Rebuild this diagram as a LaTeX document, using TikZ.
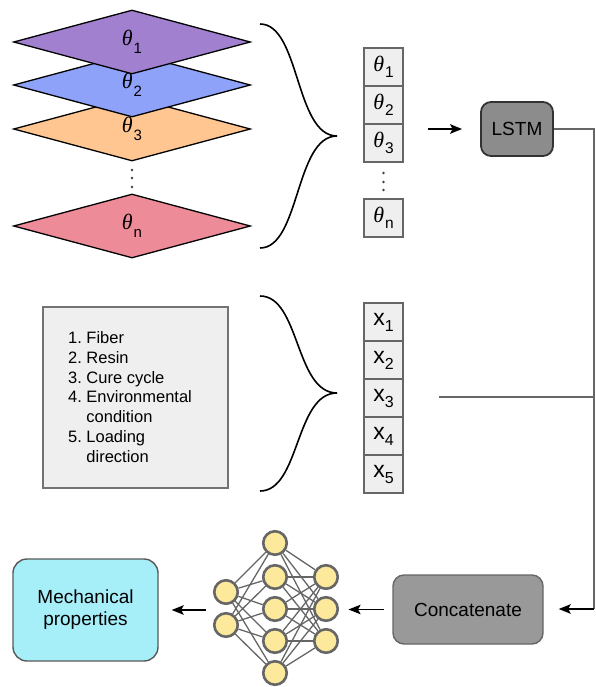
\documentclass[tikz,border=0pt]{standalone}
\usepackage{fontspec}
\setmainfont{Liberation Sans}
\newfontfamily\thetafont{Liberation Serif}
\usetikzlibrary{shapes.geometric,arrows.meta,fit,backgrounds}
\definecolor{cpurple}{HTML}{A180D0}
\definecolor{cblue}{HTML}{8FA2FA}
\definecolor{corange}{HTML}{FFC692}
\definecolor{cpink}{HTML}{EE8B98}
\definecolor{ccell}{HTML}{EFEFEF}
\definecolor{cedge}{HTML}{666666}
\definecolor{clstm}{HTML}{8C8C8C}
\definecolor{cconcat}{HTML}{999999}
\definecolor{cmech}{HTML}{A6EEF8}
\definecolor{cneuron}{HTML}{FCE99C}
\newcommand{\thsym}[1]{{\fontsize{22}{22}\selectfont\thetafont\itshape θ}\hspace{1pt}\raisebox{-6pt}{\fontsize{15.5}{15.5}\selectfont #1}}
\newcommand{\thdia}[1]{\raisebox{-3pt}{{\fontsize{22}{22}\selectfont\thetafont\itshape θ}\hspace{1pt}\raisebox{-8pt}{\fontsize{15}{15}\selectfont #1}}}
\newcommand{\xsym}[1]{{\fontsize{23}{23}\selectfont x}\raisebox{-6pt}{\fontsize{16}{16}\selectfont #1}}
\begin{document}
\begin{tikzpicture}[x=1pt,y=-1pt,
  layer/.style={diamond, draw=black, line width=1.3pt, minimum width=237pt, minimum height=64pt, inner sep=0pt, aspect=3.7},
  cell/.style={draw=cedge, fill=ccell, line width=1.3pt, minimum width=39pt, minimum height=38pt, inner sep=0pt},
  brace/.style={line width=1.6pt, black},
  arr/.style={-{Stealth[length=12pt,width=9.5pt,inset=2.5pt]}, line width=1.6pt, black},
  wire/.style={line width=1.2pt, draw=cedge},
  neuron/.style={circle, draw=cedge, fill=cneuron, line width=2.6pt, minimum size=23.5pt, inner sep=0pt},
  nnedge/.style={line width=1.3pt, draw=cedge},
  boxfont/.style={font=\fontsize{19}{22}\selectfont},
  dotfill/.style={fill=black!75}
]
\useasboundingbox (0,0) rectangle (595,687);

% diamonds (layers)
\node[layer, fill=cpink] (Ln) at (132,226) {\thdia{n}};
\node[layer, fill=corange] (L3) at (132,129) {\thdia{3}};
\node[layer, fill=cblue] (L2) at (132,85) {\thdia{2}};
\node[layer, fill=cpurple] (L1) at (132,42) {\thdia{1}};
\foreach \yy in {170,178,187} \fill[dotfill] (132,\yy) circle (1.3pt);

% top brace
\coordinate (b1top) at (260,24);
\coordinate (b1tip) at (337,136);
\coordinate (b1bot) at (260,248);
\draw[brace] (b1top) .. controls (300,24) and (295,136) .. (b1tip) .. controls (295,136) and (300,248) .. (b1bot);

% theta cells
\node[cell] (t1) at (383.5,67) {\thsym{1}};
\node[cell] (t2) at (383.5,105) {\thsym{2}};
\node[cell] (t3) at (383.5,143) {\thsym{3}};
\node[cell] (tn) at (383.5,218) {\thsym{n}};
\foreach \yy in {173,182,190} \fill[dotfill] (383.5,\yy) circle (1.3pt);

% LSTM
\node[draw=black!80, fill=clstm, line width=1.8pt, rounded corners=10pt, minimum width=72pt, minimum height=54pt, inner sep=0pt, boxfont] (lstm) at (517,129) {LSTM};
\draw[arr, shorten <=24pt, shorten >=18pt] (t3.east |- lstm.west) -- (lstm.west);

% list box
\node[draw=black!55, fill=ccell, line width=1.3pt, minimum width=185pt, minimum height=181pt, inner sep=0pt] (listbox) at (135.5,397.5) {};
\node[anchor=west, inner sep=0pt, font=\fontsize{16.5}{19.7}\selectfont] (listtext) at (68,399) {%
\begin{tabular}{@{}l@{\hspace{4.5pt}}l@{}}
1. & Fiber\\
2. & Resin\\
3. & Cure cycle\\
4. & Environmental\\
   & condition\\
5. & Loading\\
   & direction
\end{tabular}};

% lower brace
\coordinate (b2top) at (260,296);
\coordinate (b2tip) at (337,393);
\coordinate (b2bot) at (260,491);
\draw[brace] (b2top) .. controls (300,296) and (295,393) .. (b2tip) .. controls (295,393) and (300,491) .. (b2bot);

% x cells
\node[cell] (x1) at (383.5,322) {\xsym{1}};
\node[cell] (x2) at (383.5,360) {\xsym{2}};
\node[cell] (x3) at (383.5,398) {\xsym{3}};
\node[cell] (x4) at (383.5,436) {\xsym{4}};
\node[cell] (x5) at (383.5,474) {\xsym{5}};

% right bus
\coordinate (xjoin) at (594,397);
\coordinate (rc) at (594,609);
\draw[wire] (lstm.east) -| (rc);
\draw[wire, shorten <=35pt] (x3.east |- xjoin) -- (xjoin);

% concatenate
\node[draw=cedge, fill=cconcat, line width=1.4pt, rounded corners=11pt, minimum width=150pt, minimum height=69pt, inner sep=0pt, boxfont] (concat) at (468,609.5) {Concatenate};
\draw[arr, shorten >=15pt] (rc) -- (rc -| concat.east);

% neural network
\node[neuron] (a1) at (226,592) {};
\node[neuron] (a2) at (226,625) {};
\node[neuron] (h1) at (275,543) {};
\node[neuron] (h2) at (275,577) {};
\node[neuron] (h3) at (275,609) {};
\node[neuron] (h4) at (275,641) {};
\node[neuron] (h5) at (275,673) {};
\node[neuron] (o1) at (326,577) {};
\node[neuron] (o2) at (326,609) {};
\node[neuron] (o3) at (326,641) {};
\begin{scope}[on background layer]
\foreach \a in {a1,a2} \foreach \h in {h1,h2,h3,h4,h5} \draw[nnedge] (\a) -- (\h);
\foreach \h in {h1,h2,h3,h4,h5} \foreach \o in {o1,o2,o3} \draw[nnedge] (\h) -- (\o);
\end{scope}
\node[fit=(a1)(a2)(h1)(h5)(o1)(o3), inner sep=1.3pt] (nn) {};

\draw[arr, shorten <=8pt, shorten >=8pt] (concat.west) -- (concat.west -| nn.east);

% mechanical properties
\node[draw=black!65, fill=cmech, line width=1.4pt, rounded corners=14pt, minimum width=145pt, minimum height=102pt, inner sep=0pt, align=center, boxfont] (mech) at (85.5,610) {Mechanical\\properties};
\draw[arr, shorten <=5pt, shorten >=13pt] (nn.west |- mech.east) -- (mech.east);
\end{tikzpicture}
\end{document}
